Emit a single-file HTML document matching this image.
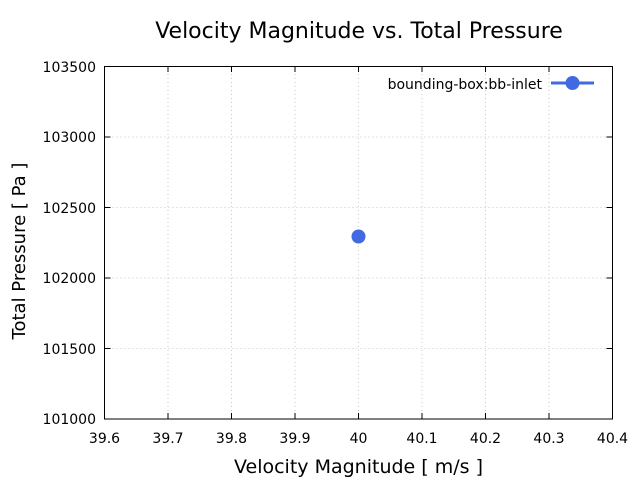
<!DOCTYPE html>
<html><head><meta charset="utf-8"><style>
html,body{margin:0;padding:0;background:#fff;}
svg{display:block;}
text{font-family:"DejaVu Sans","Liberation Sans",sans-serif;fill:#000;}
</style></head><body>
<svg width="640" height="480" viewBox="0 0 640 480" xmlns="http://www.w3.org/2000/svg">
<rect width="640" height="480" fill="#fff"/>
<g stroke="#c8c8c8" stroke-width="1" stroke-dasharray="1,3">
<line x1="168" y1="66" x2="168" y2="419"/>
<line x1="231.5" y1="66" x2="231.5" y2="419"/>
<line x1="295" y1="66" x2="295" y2="419"/>
<line x1="358.5" y1="66" x2="358.5" y2="419"/>
<line x1="422" y1="66" x2="422" y2="419"/>
<line x1="485.5" y1="66" x2="485.5" y2="419"/>
<line x1="549" y1="66" x2="549" y2="419"/>
<line x1="104.5" y1="137" x2="612.5" y2="137"/>
<line x1="104.5" y1="207.5" x2="612.5" y2="207.5"/>
<line x1="104.5" y1="278" x2="612.5" y2="278"/>
<line x1="104.5" y1="348.5" x2="612.5" y2="348.5"/>
</g>
<rect x="104.5" y="66.5" width="508" height="352.5" fill="none" stroke="#000" stroke-width="1"/>
<g stroke="#000" stroke-width="1">
<path d="M168,419v-6M231.5,419v-6M295,419v-6M358.5,419v-6M422,419v-6M485.5,419v-6M549,419v-6"/>
<path d="M168,66v6M231.5,66v6M295,66v6M358.5,66v6M422,66v6M485.5,66v6M549,66v6"/>
<path d="M104.5,137h6M104.5,207.5h6M104.5,278h6M104.5,348.5h6"/>
<path d="M612.5,137h-6M612.5,207.5h-6M612.5,278h-6M612.5,348.5h-6"/>
</g>
<g font-size="14" text-anchor="end">
<text x="96" y="72">103500</text>
<text x="96" y="142">103000</text>
<text x="96" y="213">102500</text>
<text x="96" y="283">102000</text>
<text x="96" y="354">101500</text>
<text x="96" y="424">101000</text>
</g>
<g font-size="14" text-anchor="middle">
<text x="104.5" y="443">39.6</text>
<text x="168" y="443">39.7</text>
<text x="231.5" y="443">39.8</text>
<text x="295" y="443">39.9</text>
<text x="358.5" y="443">40</text>
<text x="422" y="443">40.1</text>
<text x="485.5" y="443">40.2</text>
<text x="549" y="443">40.3</text>
<text x="612.5" y="443">40.4</text>
</g>
<text x="359" y="38" font-size="22" text-anchor="middle">Velocity Magnitude vs. Total Pressure</text>
<text x="358.5" y="473" font-size="19" text-anchor="middle">Velocity Magnitude [ m/s ]</text>
<text transform="translate(25,251) rotate(-90)" font-size="18" text-anchor="middle">Total Pressure [ Pa ]</text>
<text x="542" y="89" font-size="14" text-anchor="end">bounding-box:bb-inlet</text>
<line x1="551" y1="83" x2="594" y2="83" stroke="#4169e1" stroke-width="3"/>
<circle cx="572.5" cy="83" r="7" fill="#4169e1"/>
<circle cx="358.5" cy="236.5" r="7" fill="#4169e1"/>
</svg>
</body></html>
